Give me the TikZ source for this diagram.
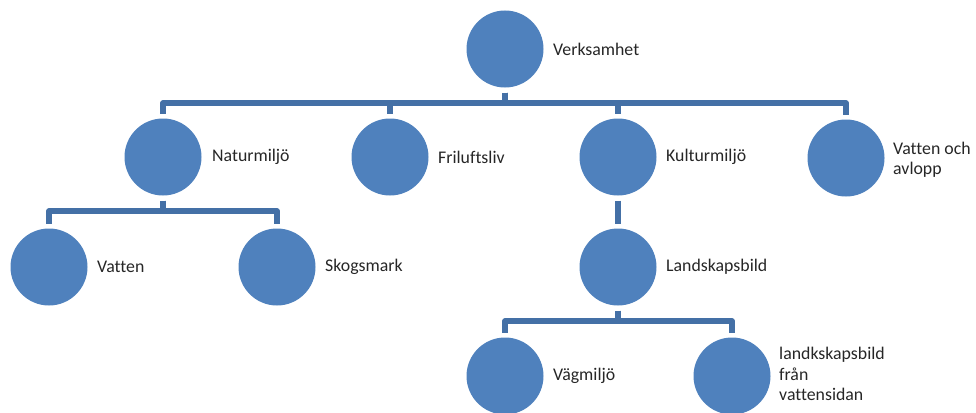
\documentclass[tikz,border=0pt]{standalone}
\usepackage{fontspec}
\setmainfont{Carlito}[Ligatures=NoCommon]
\definecolor{circblue}{RGB}{79,129,189}
\definecolor{lineblue}{RGB}{68,112,166}
\begin{document}
\begin{tikzpicture}[x=1pt,y=1pt,
  circ/.style={circle,fill=circblue,draw=none,minimum size=77pt,inner sep=0pt,outer sep=5pt},
  lab/.style={anchor=west,inner sep=0pt,align=left,text=black!85,font=\fontsize{17.8}{20.5}\selectfont},
  conn/.style={draw=lineblue,line width=5.5pt,line join=round}]
\useasboundingbox (0,0) rectangle (976,-412);
% circles
\node[circ] (root) at (505,-49) {};
\node[circ] (n1) at (163,-157) {};
\node[circ] (n2) at (390,-157) {};
\node[circ] (n3) at (618,-157) {};
\node[circ] (n4) at (846,-158) {};
\node[circ] (n11) at (49,-267) {};
\node[circ] (n12) at (277,-267) {};
\node[circ] (n31) at (618,-267) {};
\node[circ] (n311) at (505,-376) {};
\node[circ] (n312) at (732,-376) {};
% labels
\node[lab] (t0) at ([xshift=48pt]root.center) {Verksamhet};
\node[lab] (t1) at ([xshift=49pt]n1.center) {Naturmiljö};
\node[lab] (t2) at ([xshift=48pt]n2.center) {Friluftsliv};
\node[lab] (t3) at ([xshift=48pt]n3.center) {Kulturmiljö};
\node[lab] (t4) at ([xshift=47pt,yshift=-2pt]n4.center) {Vatten och\\avlopp};
\node[lab] (t11) at ([xshift=48pt]n11.center) {Vatten};
\node[lab] (t12) at ([xshift=48pt]n12.center) {Skogsmark};
\node[lab] (t31) at ([xshift=48pt]n31.center) {Landskapsbild};
\node[lab] (t311) at ([xshift=48pt]n311.center) {Vägmiljö};
\node[lab] (t312) at ([xshift=47pt,yshift=2pt]n312.center) {landkskapsbild\\från\\vattensidan};
% connectors
\foreach \c in {n1,n2,n3,n4} {
  \draw[conn] (root.south) -- ++(0,-10.5) -| (\c.north);
}
\foreach \c in {n11,n12} {
  \draw[conn] (n1.south) -- ++(0,-10.5) -| (\c.north);
}
\draw[conn] (n3.south) -- (n31.north);
\foreach \c in {n311,n312} {
  \draw[conn] (n31.south) -- ++(0,-10.5) -| (\c.north);
}
\end{tikzpicture}
\end{document}
